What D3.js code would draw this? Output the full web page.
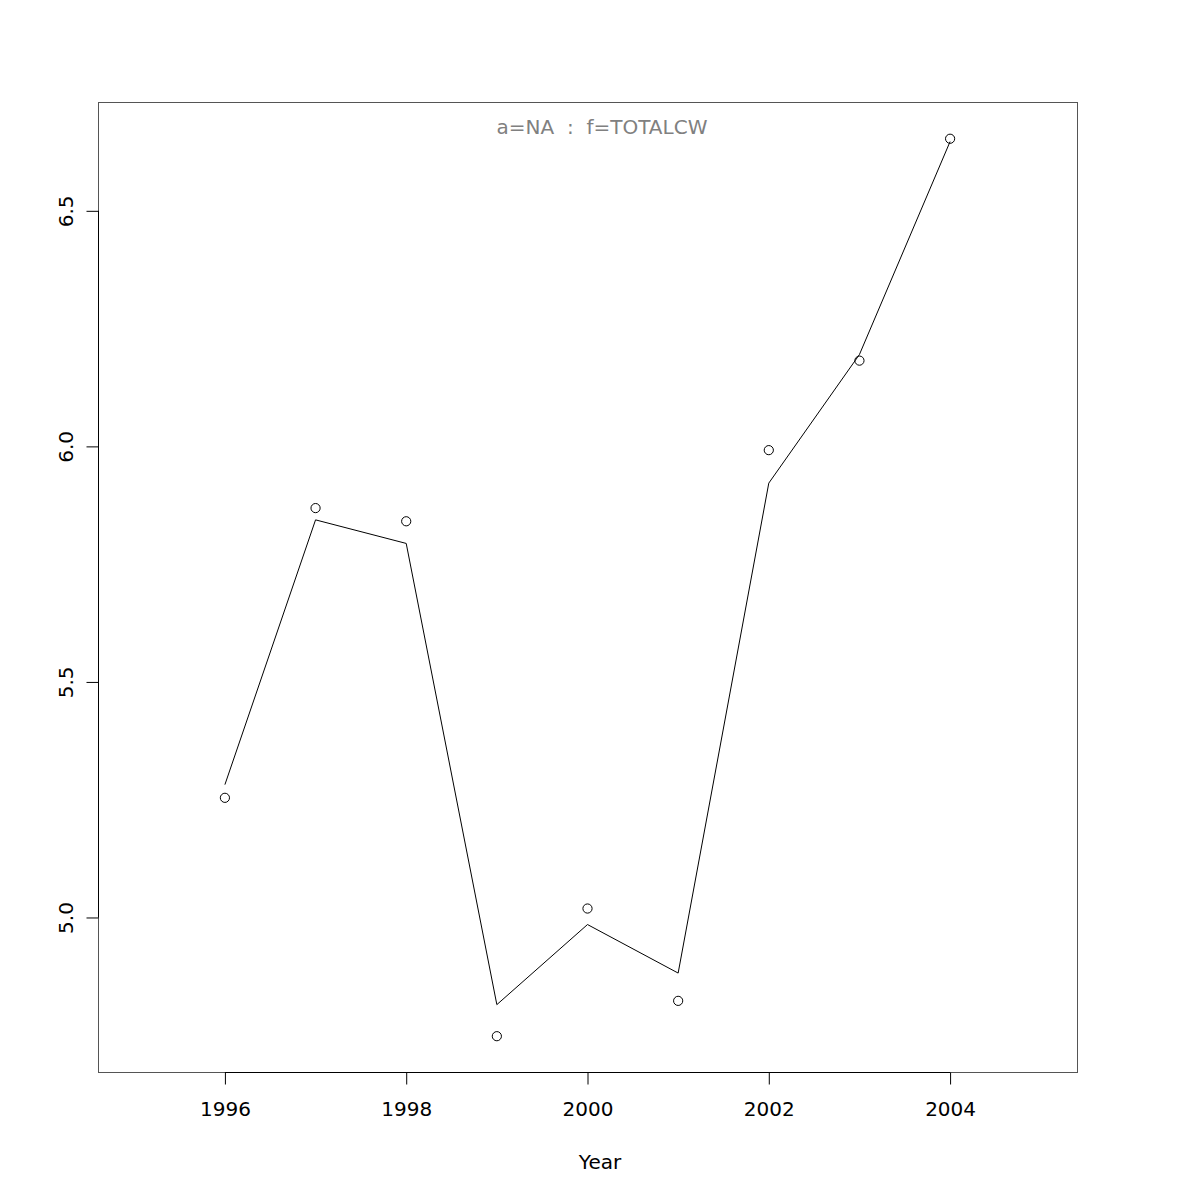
<!DOCTYPE html>
<html><head><meta charset="utf-8">
<script src="https://cdn.jsdelivr.net/npm/d3@7"></script>
<style>body{margin:0;background:#fff}svg{display:block}</style>
</head><body>
<script>
const years = [1996,1997,1998,1999,2000,2001,2002,2003,2004];
const observed = [5.254,5.869,5.841,4.748,5.019,4.823,5.992,6.182,6.653];
const fitted = [5.282,5.844,5.794,4.815,4.985,4.882,5.922,6.195,6.647];
const xTicks = [1996,1998,2000,2002,2004];
const yTicks = [5.0,5.5,6.0,6.5];
const xDomain = [1994.6,2005.4];
const yDomain = [4.672,6.731];
const title = "a=NA  :  f=TOTALCW";
const xLabel = "Year";

(function(){
const W=1200,H=1200;
const mL=98,mR=1077,mT=102,mB=1072;
const svg=d3.select("body").append("svg").attr("width",W).attr("height",H);
const x=d3.scaleLinear().domain(xDomain).range([mL,mR]);
const y=d3.scaleLinear().domain(yDomain).range([mB,mT]);
const font="DejaVu Sans";
const fs=20;

svg.append("rect").attr("x",mL+0.5).attr("y",mT+0.5).attr("width",mR-mL).attr("height",mB-mT)
  .attr("fill","none").attr("stroke","#555").attr("stroke-width",1);

const xa=svg.append("g").attr("transform",`translate(0,${mB+0.5})`)
  .call(d3.axisBottom(x).tickValues(xTicks).tickFormat(d3.format("d")).tickSize(12).tickPadding(17).tickSizeOuter(0));
xa.select(".domain").attr("d",`M${x(xTicks[0])},0H${x(xTicks[xTicks.length-1])}`).attr("stroke","#000");
xa.selectAll("text").attr("font-family",font).attr("font-size",fs).attr("fill","#000");

const ya=svg.append("g").attr("transform",`translate(${mL+0.5},0)`)
  .call(d3.axisLeft(y).tickValues(yTicks).tickFormat(d3.format(".1f")).tickSize(12).tickSizeOuter(0));
ya.select(".domain").attr("d",`M0,${y(yTicks[0])}V${y(yTicks[yTicks.length-1])}`).attr("stroke","#000");
ya.selectAll(".tick text").attr("font-family",font).attr("font-size",fs).attr("fill","#000")
  .attr("x",null).attr("dy",null).attr("text-anchor","middle")
  .attr("transform","translate(-26,0) rotate(-90)");

svg.append("path").datum(years.map((d,i)=>[d,fitted[i]]))
  .attr("d",d3.line().x(d=>x(d[0])).y(d=>y(d[1])))
  .attr("fill","none").attr("stroke","#000").attr("stroke-width",1);

svg.selectAll("circle.pt").data(years.map((d,i)=>[d,observed[i]])).enter().append("circle")
  .attr("class","pt").attr("cx",d=>x(d[0])).attr("cy",d=>y(d[1])).attr("r",4.6)
  .attr("fill","none").attr("stroke","#000").attr("stroke-width",1);

svg.append("text").attr("x",602).attr("y",134).attr("text-anchor","middle")
  .attr("font-family",font).attr("font-size",fs).attr("fill","#808080")
  .style("white-space","pre").text(title);

svg.append("text").attr("x",600).attr("y",1169).attr("text-anchor","middle")
  .attr("font-family",font).attr("font-size",fs).attr("fill","#000").text(xLabel);
})();
</script>
</body></html>
